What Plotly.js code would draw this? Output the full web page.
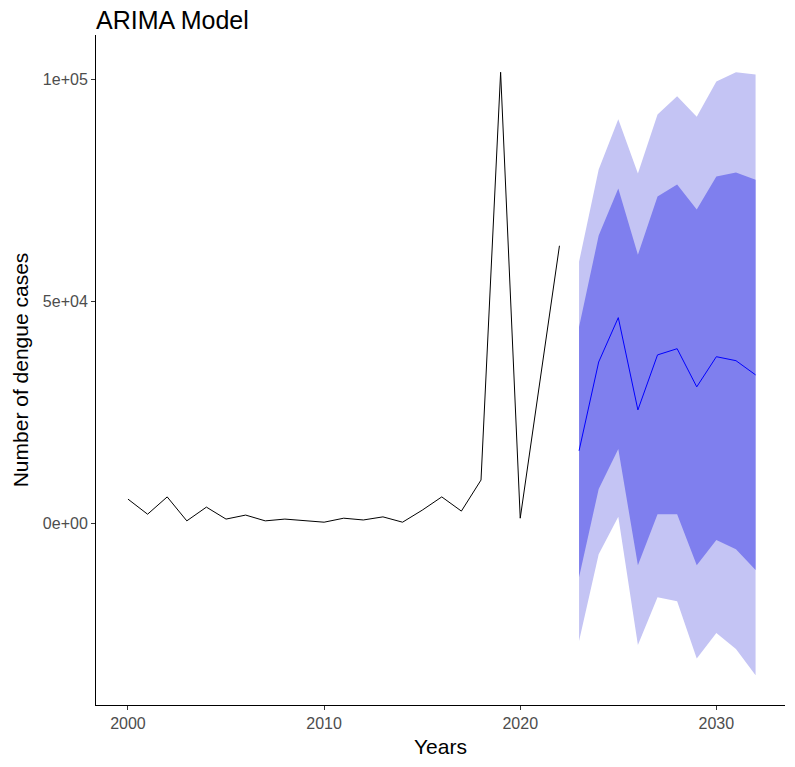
<!DOCTYPE html>
<html><head><meta charset="utf-8">
<script src="https://cdn.plot.ly/plotly-3.0.1.min.js"></script>
<style>body{margin:0}#chart{width:795px;height:767px}</style>
</head><body><div id="chart"></div>
<script>
// observed series
let years = [];
for (let y = 2000; y <= 2022; y++) years.push(y);
let cases = [5400, 2000, 5900, 500, 3600, 900, 1800, 500, 900, 500, 200, 1100, 700, 1400, 200, 2900, 5900, 2700, 9700, 101600, 1100, 31800, 62500];

// forecast
let fcYears = [2023, 2024, 2025, 2026, 2027, 2028, 2029, 2030, 2031, 2032];
let fcMean = [16300, 36300, 46300, 25500, 37900, 39300, 30700, 37500, 36600, 33400];
let hi80 = [44200, 64800, 75400, 60500, 73600, 76300, 70700, 78100, 79000, 77400];
let lo80 = [-12200, 7700, 16700, -9500, 2000, 2000, -9500, -3800, -5900, -10600];
let hi95 = [58900, 79700, 91000, 78800, 92100, 96200, 91600, 99500, 101600, 101100];
let lo95 = [-26600, -7000, 1400, -27500, -16700, -17600, -30500, -24800, -28400, -34300];

function band(lo, hi, color) {
    return {
        x: fcYears.concat(fcYears.slice().reverse()),
        y: hi.concat(lo.slice().reverse()),
        type: 'scatter', mode: 'lines', fill: 'toself',
        fillcolor: color, line: {width: 0}, hoverinfo: 'skip'
    };
}

let data = [
    band(lo95, hi95, '#c4c4f4'),
    band(lo80, hi80, '#7f7fee'),
    {x: fcYears, y: fcMean, type: 'scatter', mode: 'lines', line: {color: '#0000ff', width: 1}},
    {x: years, y: cases, type: 'scatter', mode: 'lines', line: {color: '#000000', width: 1}}
];

let tickFont = {family: 'Liberation Sans, Arial', size: 16, color: '#4d4d4d'};
let layout = {
    width: 795, height: 767,
    margin: {l: 96, r: 10, t: 35, b: 62},
    showlegend: false,
    paper_bgcolor: '#fff', plot_bgcolor: '#fff',
    font: {family: 'Liberation Sans, Arial'},
    title: {text: 'ARIMA Model', x: 0, xref: 'paper', xanchor: 'left', y: 0.985, yref: 'container',
        font: {size: 25, color: '#000'}},
    xaxis: {
        range: [1998.37, 2033.5], tickvals: [2000, 2010, 2020, 2030],
        showgrid: false, zeroline: false, showline: true, linecolor: '#000', linewidth: 1,
        ticks: 'outside', ticklen: 4, tickcolor: '#333', tickfont: tickFont,
        title: {text: 'Years', font: {size: 21, color: '#000'}, standoff: 8}
    },
    yaxis: {
        range: [-41000, 110000], tickvals: [0, 50000, 100000], ticktext: ['0e+00', '5e+04', '1e+05'],
        showgrid: false, zeroline: false, showline: true, linecolor: '#000', linewidth: 1,
        ticks: 'outside', ticklen: 4, tickcolor: '#333', tickfont: tickFont,
        title: {text: 'Number of dengue cases', font: {size: 21, color: '#000'}, standoff: 8}
    }
};

Plotly.newPlot('chart', data, layout, {displayModeBar: false});
</script></body></html>
